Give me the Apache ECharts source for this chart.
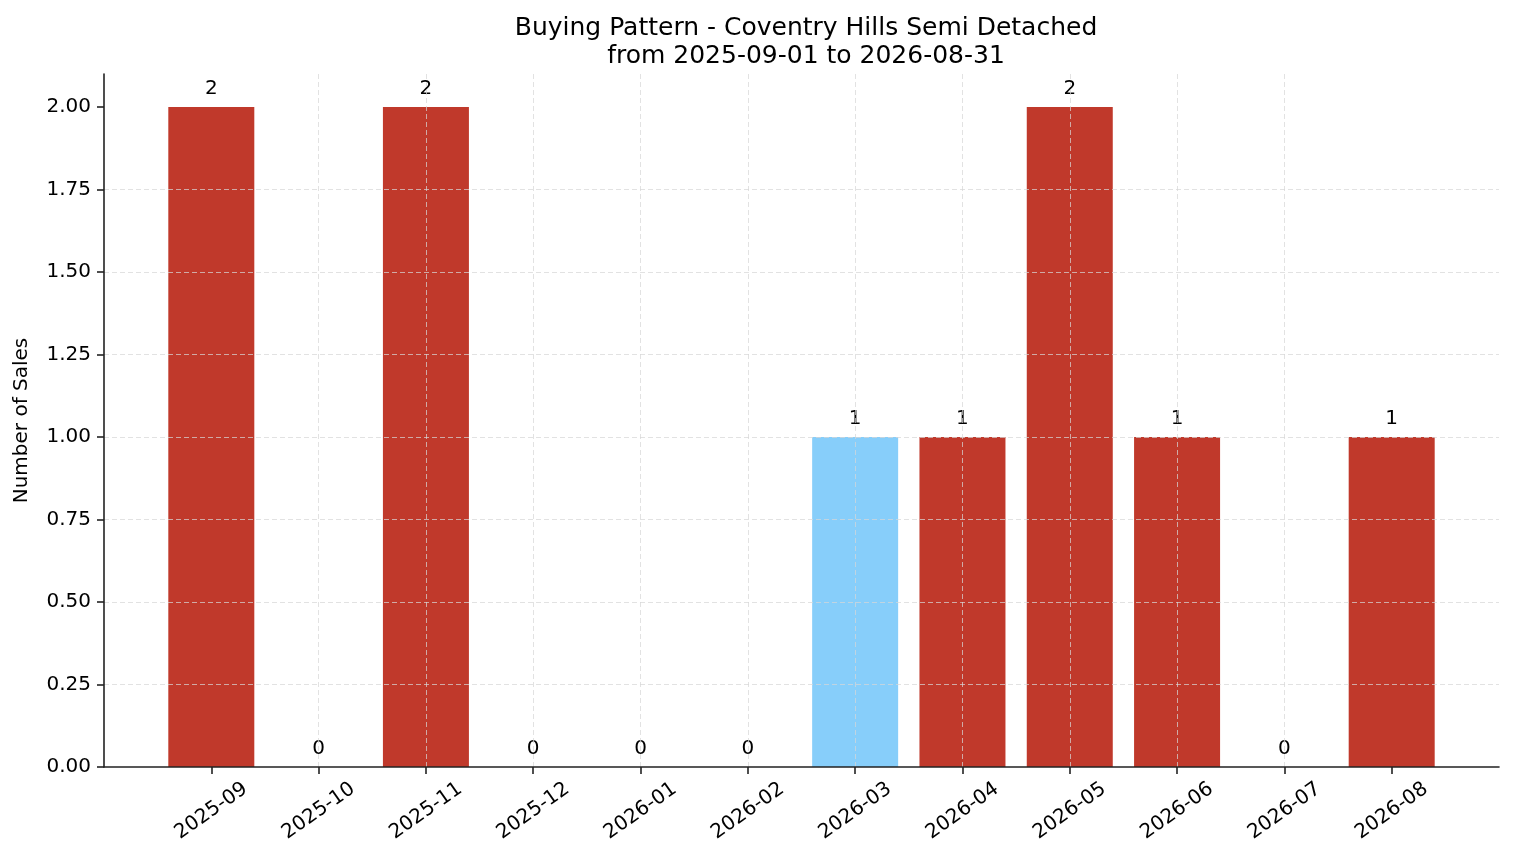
<!DOCTYPE html>
<html>
<head>
<meta charset="utf-8">
<script src="https://cdn.jsdelivr.net/npm/echarts@6/dist/echarts.min.js"></script>
<style>
  html, body { margin: 0; padding: 0; background: #fff; }
  #main { width: 1514px; height: 863px; }
</style>
</head>
<body>
<div id="main"></div>
<script>
// months on the x axis
var months = ['2025-09', '2025-10', '2025-11', '2025-12', '2026-01', '2026-02',
  '2026-03', '2026-04', '2026-05', '2026-06', '2026-07', '2026-08'];
// sales per month
var sales = [2, 0, 2, 0, 0, 0, 1, 1, 2, 1, 0, 1];
// highlighted month (light blue)
var highlightMonth = '2026-03';
var yTicks = [0, 0.25, 0.5, 0.75, 1, 1.25, 1.5, 1.75, 2];

var RED = '#c0392b';
var BLUE = '#87cefa';
var FONT = 'DejaVu Sans';
var GRID = 'rgba(215,215,215,0.9)';

var chart = echarts.init(document.getElementById('main'), null, { renderer: 'canvas' });

var barData = [];
for (var i = 0; i < months.length; i++) {
  barData.push({
    value: [i, sales[i]],
    itemStyle: { color: months[i] === highlightMonth ? BLUE : RED }
  });
}
var idx = months.map(function (m, i) { return i; });

chart.setOption({
  animation: false,
  backgroundColor: '#fff',
  textStyle: { fontFamily: FONT },
  title: {
    text: 'Buying Pattern - Coventry Hills Semi Detached\nfrom 2025-09-01 to 2026-08-31',
    left: 801,
    textAlign: 'center',
    top: 9,
    textStyle: { fontFamily: FONT, fontSize: 25, fontWeight: 'normal', color: '#000', lineHeight: 28 }
  },
  grid: { left: 104, right: 15, top: 74, bottom: 96, outerBoundsMode: 'none', containLabel: false },
  xAxis: {
    type: 'value',
    min: -1,
    max: 12,
    interval: 1,
    z: 5,
    axisLine: { show: true, onZero: false, lineStyle: { color: '#222', width: 1.6 } },
    axisTick: { show: true, length: 7, customValues: idx, lineStyle: { color: '#222', width: 1.6 } },
    axisLabel: {
      customValues: idx,
      rotate: 35,
      margin: 44,
      align: 'center',
      verticalAlign: 'middle',
      fontFamily: FONT,
      fontSize: 20,
      color: '#000',
      formatter: function (v) { return months[v] || ''; }
    },
    splitLine: {
      show: true, showMinLine: false, showMaxLine: false,
      lineStyle: { color: GRID, type: [5, 3], width: 0.8 }
    }
  },
  yAxis: {
    type: 'value',
    min: 0,
    max: 2.1,
    interval: 0.25,
    z: 5,
    name: 'Number of Sales',
    nameLocation: 'middle',
    nameGap: 72,
    nameTextStyle: { fontFamily: FONT, fontSize: 20, color: '#000' },
    axisLine: { show: true, onZero: false, lineStyle: { color: '#222', width: 1.6 } },
    axisTick: { show: true, length: 7, customValues: yTicks, lineStyle: { color: '#222', width: 1.6 } },
    axisLabel: {
      customValues: yTicks,
      margin: 13,
      fontFamily: FONT,
      fontSize: 20,
      color: '#000',
      formatter: function (v) { return v.toFixed(2); }
    },
    splitLine: {
      show: true, showMinLine: false, showMaxLine: false,
      lineStyle: { color: GRID, type: [5, 3], width: 0.8 }
    }
  },
  series: [{
    type: 'bar',
    barWidth: 86,
    data: barData,
    label: {
      show: true,
      position: 'top',
      distance: 8,
      fontFamily: FONT,
      fontSize: 20,
      color: '#000',
      formatter: function (p) { return p.value[1]; }
    }
  }]
});
</script>
</body>
</html>
